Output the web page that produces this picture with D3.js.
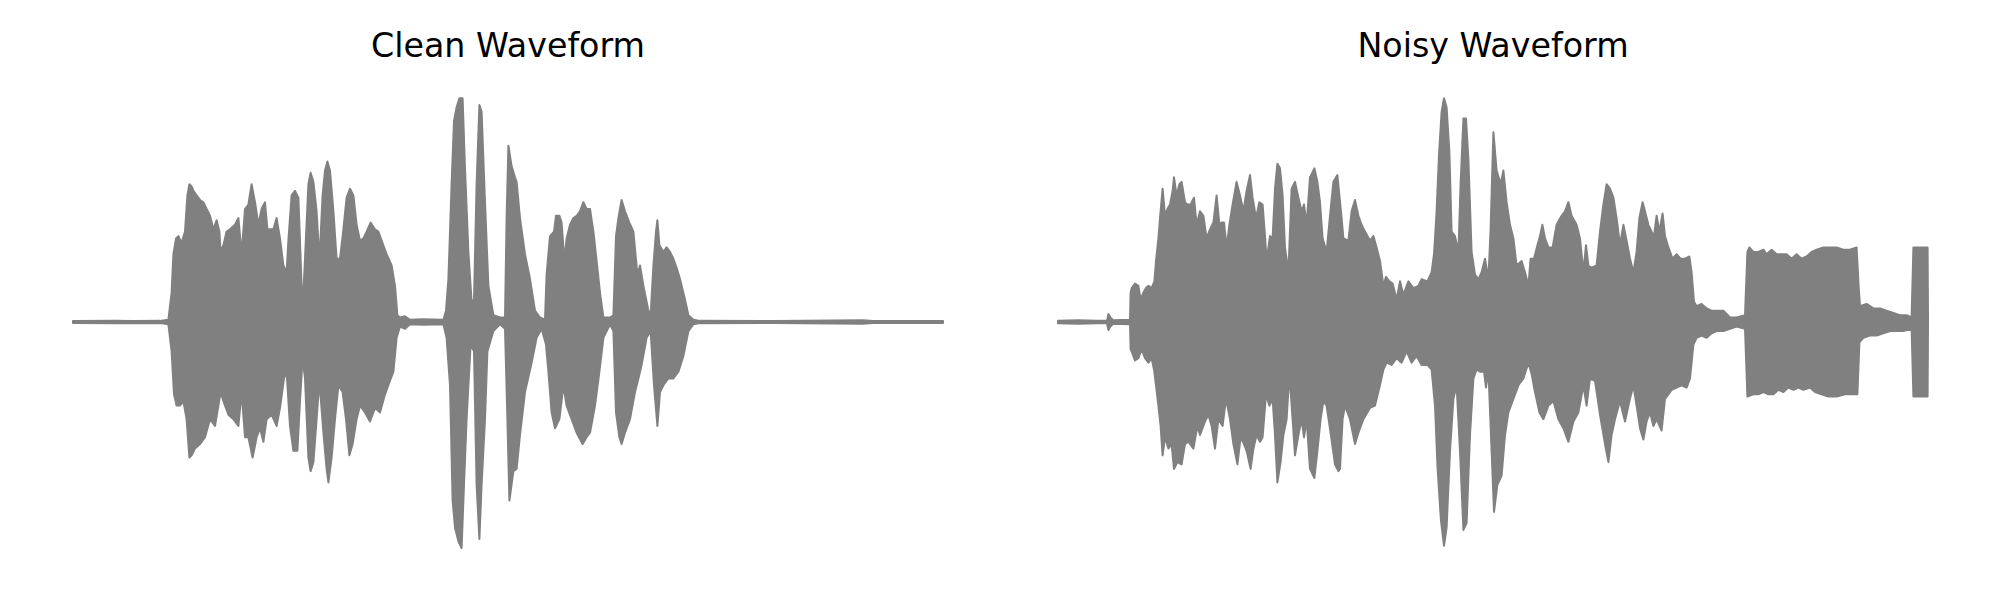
<!DOCTYPE html>
<html>
<head>
<meta charset="utf-8">
<script src="https://cdn.jsdelivr.net/npm/d3@7"></script>
<style>
  html, body { margin: 0; padding: 0; background: #ffffff; }
  svg { display: block; }
</style>
</head>
<body>
<svg id="chart" width="2000" height="600"></svg>
<script>
// ---- Data (time in seconds, amplitude normalised to the peak) ----
const titles = ["Clean Waveform", "Noisy Waveform"];
const duration = 4.35;

// Envelope of the clean waveform: [time, amplitude]
const cleanUpper = [[0,.004],[.21,.006],[.3,.004],[.435,.005],[.477,.01],[.493,.13],[.502,.30],[.515,.37],[.527,.38],[.543,.35],[.560,.40],[.572,.56],[.582,.61],[.593,.60],[.602,.58],[.618,.56],[.635,.54],[.652,.53],[.668,.50],[.685,.47],[.702,.41],[.718,.45],[.732,.40],[.738,.31],[.752,.34],[.768,.40],[.785,.41],[.810,.43],[.827,.46],[.843,.30],[.860,.50],[.877,.52],[.893,.61],[.910,.53],[.927,.43],[.943,.50],[.960,.53],[.972,.41],[1.002,.41],[1.018,.46],[1.035,.37],[1.052,.25],[1.068,.22],[1.077,.36],[1.093,.56],[1.110,.58],[1.127,.55],[1.143,.16],[1.152,.13],[1.160,.28],[1.177,.61],[1.188,.66],[1.202,.62],[1.218,.49],[1.232,.27],[1.248,.56],[1.260,.67],[1.272,.71],[1.285,.67],[1.302,.49],[1.318,.28],[1.335,.28],[1.352,.41],[1.368,.55],[1.385,.59],[1.402,.56],[1.418,.43],[1.435,.36],[1.452,.37],[1.468,.40],[1.488,.44],[1.510,.41],[1.527,.40],[1.543,.36],[1.568,.30],[1.593,.25],[1.610,.16],[1.622,.03],[1.635,.02],[1.66,.025],[1.685,.01],[1.75,.012],[1.852,.01],[1.865,.05],[1.877,.19],[1.893,.61],[1.905,.89],[1.918,.95],[1.932,.99],[1.948,.99],[1.960,.68],[1.977,.31],[1.993,.09],[2.005,.10],[2.018,.61],[2.032,.96],[2.043,.93],[2.060,.53],[2.077,.16],[2.102,.03],[2.135,.02],[2.160,.02],[2.168,.46],[2.177,.78],[2.193,.69],[2.210,.64],[2.218,.62],[2.235,.46],[2.260,.30],[2.285,.19],[2.310,.05],[2.335,.02],[2.360,.01],[2.368,.21],[2.385,.38],[2.405,.40],[2.415,.47],[2.432,.47],[2.443,.44],[2.457,.27],[2.468,.37],[2.485,.43],[2.502,.46],[2.518,.47],[2.535,.49],[2.552,.53],[2.568,.50],[2.585,.50],[2.602,.40],[2.618,.27],[2.635,.13],[2.652,.02],[2.685,.02],[2.702,.03],[2.715,.38],[2.727,.46],[2.743,.54],[2.760,.49],[2.782,.44],[2.802,.40],[2.822,.21],[2.835,.25],[2.852,.16],[2.877,.05],[2.888,.03],[2.902,.25],[2.915,.40],[2.922,.45],[2.932,.34],[2.952,.31],[2.968,.33],[2.985,.31],[3.002,.28],[3.018,.24],[3.035,.19],[3.060,.10],[3.077,.03],[3.102,.01],[3.135,.005],[3.5,.004],[3.95,.008],[4.0,.004],[4.35,.004]];

const cleanLower = [[0,-.004],[.21,-.006],[.3,-.004],[.435,-.005],[.477,-.01],[.493,-.13],[.505,-.32],[.518,-.37],[.535,-.37],[.552,-.35],[.568,-.43],[.582,-.60],[.593,-.59],[.610,-.56],[.635,-.54],[.660,-.51],[.685,-.43],[.710,-.46],[.727,-.37],[.738,-.31],[.752,-.35],[.777,-.41],[.802,-.43],[.827,-.46],[.843,-.31],[.860,-.51],[.877,-.51],[.898,-.60],[.918,-.51],[.935,-.47],[.952,-.53],[.968,-.43],[.993,-.41],[1.018,-.46],[1.035,-.38],[1.055,-.25],[1.068,-.22],[1.085,-.46],[1.102,-.57],[1.122,-.57],[1.135,-.35],[1.148,-.16],[1.160,-.25],[1.177,-.60],[1.188,-.66],[1.202,-.62],[1.218,-.43],[1.232,-.26],[1.252,-.49],[1.268,-.65],[1.277,-.71],[1.293,-.60],[1.310,-.43],[1.327,-.28],[1.348,-.31],[1.365,-.43],[1.382,-.59],[1.398,-.54],[1.418,-.43],[1.435,-.37],[1.460,-.40],[1.485,-.44],[1.510,-.38],[1.535,-.40],[1.560,-.32],[1.585,-.26],[1.602,-.22],[1.618,-.07],[1.635,-.02],[1.66,-.03],[1.685,-.01],[1.75,-.012],[1.852,-.01],[1.868,-.07],[1.885,-.28],[1.898,-.79],[1.910,-.91],[1.927,-.97],[1.943,-1.00],[1.955,-.72],[1.968,-.43],[1.988,-.10],[2.005,-.13],[2.018,-.72],[2.032,-.96],[2.043,-.72],[2.060,-.43],[2.072,-.13],[2.102,-.04],[2.135,-.01],[2.160,-.03],[2.172,-.43],[2.182,-.79],[2.202,-.66],[2.218,-.65],[2.235,-.50],[2.260,-.31],[2.293,-.18],[2.318,-.07],[2.343,-.03],[2.365,-.10],[2.377,-.22],[2.393,-.40],[2.410,-.47],[2.432,-.43],[2.452,-.28],[2.468,-.37],[2.493,-.43],[2.518,-.49],[2.548,-.54],[2.568,-.51],[2.585,-.49],[2.610,-.37],[2.632,-.22],[2.652,-.07],[2.685,-.01],[2.702,-.04],[2.715,-.40],[2.732,-.51],[2.743,-.54],[2.760,-.49],[2.785,-.43],[2.810,-.31],[2.827,-.25],[2.843,-.19],[2.868,-.07],[2.888,-.04],[2.905,-.28],[2.922,-.46],[2.935,-.31],[2.952,-.28],[2.977,-.25],[3.002,-.25],[3.027,-.22],[3.052,-.15],[3.077,-.04],[3.102,-.01],[3.135,-.005],[3.5,-.004],[3.95,-.008],[4.0,-.004],[4.35,-.004]];

// Envelope of the noisy waveform: [time, amplitude]
const noisyUpper = [[0,.006],[.1,.008],[.2,.006],[.245,.006],[.252,.035],[.262,.02],[.275,.008],[.36,.01],[.363,.13],[.368,.15],[.385,.17],[.402,.16],[.413,.10],[.427,.13],[.44,.15],[.452,.16],[.468,.15],[.482,.18],[.49,.27],[.502,.37],[.513,.49],[.523,.59],[.535,.47],[.547,.50],[.56,.52],[.573,.58],[.58,.64],[.593,.56],[.607,.61],[.618,.62],[.635,.53],[.647,.52],[.663,.52],[.68,.55],[.693,.43],[.71,.49],[.727,.47],[.743,.37],[.76,.41],[.777,.44],[.793,.56],[.807,.43],[.818,.44],[.83,.44],[.843,.33],[.857,.43],[.873,.52],[.893,.62],[.91,.56],[.927,.49],[.943,.58],[.96,.65],[.973,.55],[.99,.46],[1.007,.53],[1.023,.52],[1.035,.38],[1.043,.27],[1.06,.38],[1.073,.37],[1.085,.59],[1.097,.70],[1.11,.68],[1.123,.56],[1.135,.33],[1.152,.22],[1.168,.59],[1.185,.62],[1.202,.55],[1.218,.49],[1.23,.52],[1.243,.43],[1.26,.64],[1.282,.68],[1.297,.62],[1.31,.53],[1.323,.37],[1.343,.31],[1.36,.47],[1.377,.62],[1.397,.65],[1.418,.46],[1.427,.37],[1.452,.36],[1.468,.49],[1.485,.54],[1.502,.47],[1.518,.43],[1.535,.40],[1.56,.36],[1.577,.38],[1.593,.33],[1.61,.27],[1.627,.16],[1.64,.20],[1.657,.18],[1.673,.17],[1.693,.10],[1.71,.18],[1.727,.12],[1.752,.18],[1.777,.15],[1.802,.16],[1.818,.19],[1.847,.18],[1.868,.22],[1.88,.30],[1.893,.49],[1.905,.74],[1.918,.93],[1.93,.99],[1.943,.95],[1.957,.75],[1.968,.40],[1.985,.38],[2.002,.31],[2.013,.61],[2.027,.90],[2.04,.90],[2.052,.72],[2.068,.31],[2.085,.21],[2.102,.19],[2.118,.22],[2.135,.28],[2.152,.19],[2.163,.41],[2.177,.84],[2.193,.67],[2.213,.61],[2.227,.67],[2.243,.53],[2.26,.43],[2.277,.37],[2.293,.25],[2.318,.27],[2.335,.22],[2.352,.16],[2.363,.28],[2.38,.28],[2.397,.34],[2.41,.38],[2.422,.43],[2.435,.37],[2.452,.33],[2.473,.33],[2.493,.43],[2.518,.47],[2.535,.49],[2.552,.53],[2.568,.47],[2.593,.43],[2.61,.37],[2.627,.22],[2.64,.34],[2.652,.25],[2.668,.24],[2.693,.25],[2.71,.40],[2.727,.52],[2.743,.61],[2.76,.59],[2.777,.55],[2.793,.46],[2.81,.34],[2.827,.43],[2.843,.36],[2.86,.28],[2.877,.22],[2.893,.31],[2.907,.46],[2.923,.53],[2.935,.49],[2.952,.43],[2.968,.40],[2.98,.38],[2.993,.47],[3.007,.40],[3.023,.48],[3.035,.38],[3.052,.33],[3.073,.28],[3.093,.30],[3.113,.28],[3.135,.28],[3.157,.29],[3.168,.22],[3.18,.09],[3.193,.07],[3.218,.08],[3.243,.06],[3.268,.05],[3.293,.05],[3.327,.05],[3.36,.02],[3.393,.02],[3.435,.03],[3.447,.31],[3.457,.33],[3.477,.31],[3.502,.31],[3.527,.32],[3.543,.30],[3.568,.32],[3.593,.30],[3.618,.30],[3.643,.30],[3.668,.28],[3.693,.30],[3.718,.28],[3.743,.29],[3.768,.31],[3.793,.32],[3.827,.33],[3.86,.33],[3.893,.33],[3.927,.32],[3.96,.32],[3.993,.33],[4.003,.16],[4.01,.07],[4.043,.08],[4.077,.06],[4.11,.06],[4.143,.05],[4.177,.04],[4.21,.03],[4.243,.03],[4.268,.02],[4.277,.33],[4.293,.33],[4.327,.33],[4.348,.33],[4.35,.02]];

const noisyLower = [[0,-.006],[.1,-.008],[.2,-.006],[.245,-.006],[.252,-.035],[.262,-.02],[.275,-.008],[.36,-.01],[.363,-.12],[.368,-.13],[.385,-.17],[.402,-.16],[.418,-.12],[.435,-.16],[.452,-.18],[.468,-.16],[.48,-.21],[.49,-.28],[.502,-.37],[.513,-.46],[.523,-.59],[.535,-.51],[.552,-.56],[.568,-.54],[.58,-.65],[.597,-.62],[.618,-.63],[.635,-.54],[.652,-.53],[.677,-.56],[.697,-.46],[.71,-.50],[.735,-.44],[.752,-.41],[.768,-.46],[.785,-.56],[.802,-.43],[.823,-.46],[.84,-.34],[.86,-.43],[.877,-.54],[.897,-.63],[.913,-.51],[.93,-.54],[.943,-.57],[.963,-.65],[.977,-.56],[.993,-.50],[1.01,-.53],[1.023,-.51],[1.04,-.32],[1.057,-.37],[1.073,-.34],[1.085,-.50],[1.097,-.71],[1.113,-.62],[1.127,-.50],[1.143,-.43],[1.157,-.23],[1.173,-.43],[1.185,-.59],[1.202,-.50],[1.218,-.43],[1.23,-.51],[1.243,-.43],[1.26,-.65],[1.282,-.69],[1.297,-.57],[1.313,-.43],[1.327,-.35],[1.343,-.37],[1.363,-.49],[1.385,-.63],[1.402,-.66],[1.41,-.65],[1.423,-.43],[1.435,-.37],[1.46,-.43],[1.485,-.54],[1.502,-.49],[1.527,-.43],[1.56,-.38],[1.585,-.37],[1.607,-.29],[1.627,-.21],[1.643,-.18],[1.668,-.19],[1.693,-.16],[1.718,-.18],[1.743,-.13],[1.768,-.18],[1.793,-.15],[1.818,-.19],[1.847,-.19],[1.868,-.21],[1.885,-.37],[1.898,-.65],[1.915,-.88],[1.93,-.99],[1.943,-.91],[1.96,-.57],[1.977,-.34],[1.993,-.28],[2.01,-.57],[2.027,-.92],[2.043,-.89],[2.06,-.50],[2.077,-.25],[2.093,-.21],[2.11,-.22],[2.13,-.22],[2.14,-.29],[2.152,-.21],[2.168,-.57],[2.18,-.84],[2.197,-.72],[2.218,-.68],[2.235,-.50],[2.252,-.40],[2.277,-.34],[2.302,-.28],[2.327,-.25],[2.352,-.18],[2.368,-.23],[2.385,-.31],[2.407,-.40],[2.427,-.43],[2.452,-.37],[2.477,-.35],[2.502,-.43],[2.527,-.47],[2.552,-.53],[2.577,-.44],[2.602,-.40],[2.627,-.28],[2.643,-.37],[2.66,-.25],[2.685,-.26],[2.71,-.41],[2.735,-.54],[2.752,-.62],[2.768,-.50],[2.785,-.43],[2.81,-.35],[2.835,-.44],[2.857,-.35],[2.877,-.28],[2.893,-.37],[2.91,-.47],[2.927,-.52],[2.943,-.44],[2.96,-.40],[2.977,-.46],[2.993,-.43],[3.018,-.48],[3.035,-.34],[3.052,-.32],[3.068,-.30],[3.093,-.29],[3.118,-.28],[3.143,-.29],[3.16,-.25],[3.177,-.10],[3.193,-.07],[3.218,-.06],[3.243,-.07],[3.268,-.05],[3.293,-.04],[3.327,-.04],[3.36,-.03],[3.393,-.02],[3.435,-.03],[3.447,-.33],[3.477,-.32],[3.502,-.32],[3.527,-.31],[3.552,-.32],[3.577,-.32],[3.602,-.30],[3.627,-.31],[3.652,-.29],[3.677,-.30],[3.702,-.29],[3.727,-.30],[3.76,-.29],[3.785,-.31],[3.818,-.32],[3.852,-.33],[3.893,-.33],[3.935,-.32],[3.968,-.32],[3.997,-.32],[4.007,-.09],[4.027,-.07],[4.06,-.06],[4.093,-.06],[4.127,-.05],[4.16,-.04],[4.193,-.04],[4.227,-.04],[4.268,-.03],[4.277,-.33],[4.31,-.33],[4.348,-.33],[4.35,-.01]];

// ---- Layout ----
const svg = d3.select("#chart");
const panels = [
  { title: titles[0], upper: cleanUpper, lower: cleanLower, x0: 73,   x1: 943 },
  { title: titles[1], upper: noisyUpper, lower: noisyLower, x0: 1058, x1: 1928 }
];
const y = d3.scaleLinear().domain([-1, 1]).range([548, 96]);
const color = "#808080";

panels.forEach(p => {
  const x = d3.scaleLinear().domain([0, duration]).range([p.x0, p.x1]);
  const line = d3.line().x(d => x(d[0])).y(d => y(d[1]));
  const pts = p.upper.concat(p.lower.slice().reverse());
  const g = svg.append("g");
  g.append("path")
    .attr("d", line(pts) + "Z")
    .attr("fill", color)
    .attr("stroke", color)
    .attr("stroke-width", 2)
    .attr("stroke-linejoin", "round");
  svg.append("text")
    .attr("x", (p.x0 + p.x1) / 2)
    .attr("y", 57)
    .attr("text-anchor", "middle")
    .attr("font-family", "DejaVu Sans")
    .attr("font-size", 33.3)
    .attr("fill", "#000")
    .text(p.title);
});
</script>
</body>
</html>
